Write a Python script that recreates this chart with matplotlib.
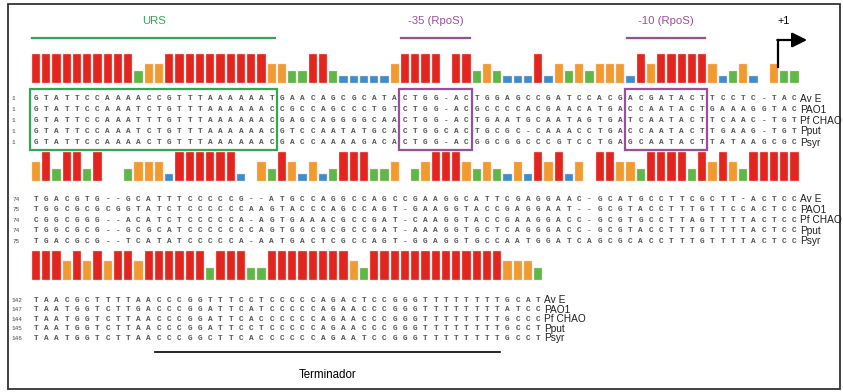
import numpy as np
import matplotlib
matplotlib.use("Agg")
import matplotlib.pyplot as plt
from matplotlib.patches import Rectangle

names = ["Av E", "PAO1", "Pf CHAO", "Pput", "Psyr"]

# upstream block (URS, -35, -10, +1)
block1 = [
    "GTATTCCAAAACCGTTTAAAAAAT" "GAACAGCGCATA" "CTGG-AC" "TGGAGCCGATCCACG" "ACGATACT" "TCCTC-TAC",
    "GTATTCCAAATCTGTTTAAAAAAC" "CGCCAGCCCTGT" "CTGG-AC" "GCCCCACGAACATGA" "CCAATACT" "GAAAGGTAC",
    "GTATTCCAAATTTGTTTAAAAAAC" "GAGCAGGGGCAA" "CTGG-AC" "TGAATGCAATAGTGA" "TCAATACT" "TCAAC-TGT",
    "GTATTCCAAATCTGTTTAAAAAAC" "GTCCAATATGCA" "CTGGCAC" "TGCGC-CAAACCTGA" "CCAATACT" "TGAAG-TGT",
    "GTATTCCAAAACTGTTTAAAAAAC" "GACCAAAAGACA" "CTGG-AC" "GGCGGCCCGTCCTGA" "GCAATACT" "TATAAGCGC",
]
block2 = [
    "TGACGTG--GCATTTCCCCCG--AT" "GCCAGGCCAGCCGAAGGCATTCGAGGAA" "C-GCATGCCTTCGCTT-ACTCC",
    "TGGCGCGCGGTATCTCCCCCCAAGT" "ACCCAGCCAGT-GAAGGTACCGAGGAAT" "--GCGTACCTTTGTTCCACTCC",
    "CGGCGGG--ACATCTCCCCCA-AGT" "GAAACGCCGAT-CAAGGTACCGAAGGAC" "C-GCGTGCCTTAGTTTTACTCC",
    "TGGCGCG--GCGCATCCCCCCCAGT" "GGCGCGCCGAT-AAAGGTGCTCAGGGAC" "C-GCGTACCTTTGTTTTACTCC",
    "TGACGCG--TCATATCCCCCA-AAT" "GACTCGCCAGT-GGAGGTGCCAATGGAT" "CAGCGCACCTTTGTTTTACTCC",
]
block3 = [
    "TAACGCTTTTAACCCGGTTTCCTCC" "CCCAGACTCCGGGTTTTTTTTGCAT",
    "TAATGGTCTTGACCCGGATTCATCC" "CCCAGAACCCGGGTTTTTTTTATCC",
    "TAATGGTCTTAACCCGGATTCACCC" "CCCAGAACCCGGGTTTTTTTTGCCC",
    "TAATGGTCTTAACCCGGATTCCTCC" "CCCAGAACCCGGGTTTTTTTTGCCT",
    "TAATGGTCTTAACCCGGCTTCACCC" "CCCAGAATCCGGGTTTTTTTTGCCT",
]
start_nums = [[1, 1, 1, 1, 1], [74, 75, 74, 74, 75], [142, 147, 144, 145, 146]]

# boxed / labelled regions in block 1 (first col, last col)
regions = [("URS", 0, 23, "#33a852"), ("-35 (RpoS)", 36, 42, "#9a4f9c"),
           ("-10 (RpoS)", 58, 65, "#9a4f9c")]
tss_col = 72.4
term_cols = (11.6, 45.3)

cons_colors = {5: "#e2251f", 4: "#f19a2e", 3: "#5cb848", 2: "#3a8ed0"}
cons_heights = {5: 29, 4: 19, 3: 12, 2: 7}

X0, DX = 36, 10.25
bar_base = [83, 181, 280]
text_top = [98.5, 199, 300]
text_step = [11, 10.6, 9.6]

fig = plt.figure(figsize=(8.43, 3.92), dpi=100)
ax = fig.add_axes([0, 0, 1, 1])
ax.set_xlim(0, 843)
ax.set_ylim(392, 0)
ax.axis("off")


def col_x(c):
    return X0 + DX * np.asarray(c)


def conservation(seqs):
    out = []
    for i in range(len(seqs[0])):
        col = [s[i] for s in seqs]
        if col.count("-") >= 3:
            out.append(0)
            continue
        res = [ch for ch in col if ch != "-"]
        out.append(max(res.count(b) for b in set(res)))
    return out


for b, seqs in enumerate([block1, block2, block3]):
    n = len(seqs[0])
    cons = conservation(seqs)
    for i, c in enumerate(cons):
        if c == 0:
            continue
        lvl = max(c, 2)
        h = cons_heights[lvl]
        ax.bar(col_x(i), h, width=8.4, bottom=bar_base[b] - h,
               color=cons_colors[lvl], edgecolor="#f6c8c0", linewidth=0.3)
    for r, s in enumerate(seqs):
        y = text_top[b] + r * text_step[b]
        ax.text(12, y, str(start_nums[b][r]), fontsize=4.3, family="Liberation Mono",
                color="#444", va="center", ha="left")
        for i, ch in enumerate(s):
            ax.text(col_x(i), y, ch, fontsize=5.6, family="Liberation Mono",
                    weight="bold", color="#555", ha="center", va="center")
        ax.text(col_x(n - 1) + 6, y, names[r], fontsize=7.3, family="Liberation Sans",
                color="#222", ha="left", va="center")

# region boxes, lines and titles
for label, c0, c1, color in regions:
    x0 = col_x(c0 - 0.55)
    x1 = col_x(c1 + 0.5)
    ax.add_patch(Rectangle((x0, 89), x1 - x0, 61, fill=False, edgecolor=color, lw=1.6))
    ax.plot([x0 + 2, x1 - 2], [38, 38], color=color, lw=1.6)
    ax.text((x0 + x1) / 2, 21, label, color=color, fontsize=8.2,
            family="Liberation Sans", ha="center", va="center")

# +1 arrow
xt = col_x(tss_col)
ax.plot([xt, xt], [67, 40], color="black", lw=1.6)
ax.annotate("", xy=(xt + 29, 40), xytext=(xt - 0.8, 40),
            arrowprops=dict(arrowstyle="-|>,head_length=0.9,head_width=0.45",
                            color="black", lw=1.6, shrinkA=0, shrinkB=0))
ax.text(xt + 6, 21, "+1", fontsize=7.8, family="Liberation Sans", ha="center", va="center")

# terminator
ax.plot(col_x(list(term_cols)), [352, 352], color="black", lw=1.2)
ax.text(col_x(np.mean(term_cols)), 375, "Terminador", fontsize=8.3,
        family="Liberation Sans", ha="center", va="center")

ax.add_patch(Rectangle((8, 4), 832, 385, fill=False, edgecolor="#333", lw=1.3))

fig.savefig("out.png", dpi=100)
